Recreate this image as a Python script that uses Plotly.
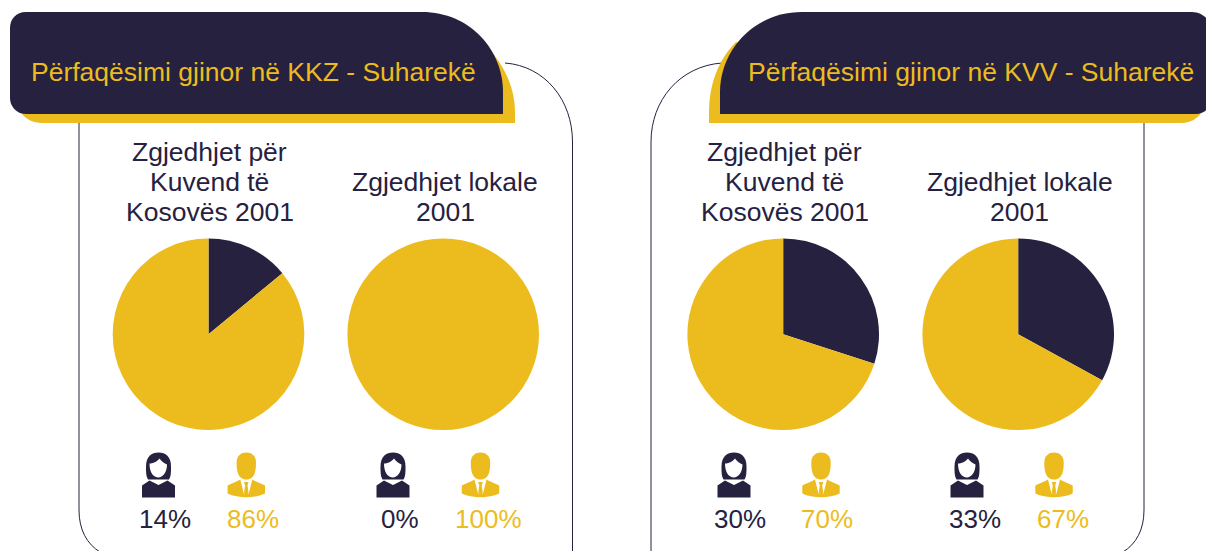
import plotly.graph_objects as go

W, H = 1206, 551
NAVY = "#26213F"
GOLD = "#ECBC1E"
FONT = "Liberation Sans"

pie_labels = ["Gra", "Burra"]
women = [14, 0, 30, 33]
men = [86, 100, 70, 67]
women_text = ["14%", "0%", "30%", "33%"]
men_text = ["86%", "100%", "70%", "67%"]
pie_titles = [
    ["Zgjedhjet për", "Kuvend të", "Kosovës 2001"],
    ["Zgjedhjet lokale", "2001"],
    ["Zgjedhjet për", "Kuvend të", "Kosovës 2001"],
    ["Zgjedhjet lokale", "2001"],
]
headers = ["Përfaqësimi gjinor në KKZ - Suharekë", "Përfaqësimi gjinor në KVV - Suharekë"]

pie_cx = [208.5, 443.2, 783.2, 1018.2]
pie_cy, pie_r = 334.2, 95.8
woman_cx = [158.5, 393, 734, 967]
man_cx = [246.3, 480.5, 821, 1054]
title_cx = [209.5, 445, 784.5, 1019.5]
pct_woman_cx = [165, 400, 739.5, 975]
pct_man_cx = [252.5, 488.5, 826.5, 1062.5]

fig = go.Figure()

for i in range(4):
    fig.add_trace(go.Pie(
        labels=pie_labels, values=[women[i], men[i]], sort=False, direction="clockwise",
        rotation=0, textinfo="none", hoverinfo="label+percent", showlegend=False,
        marker=dict(colors=[NAVY, GOLD], line=dict(width=0)),
        domain=dict(x=[(pie_cx[i] - pie_r) / W, (pie_cx[i] + pie_r) / W],
                    y=[1 - (pie_cy + pie_r) / H, 1 - (pie_cy - pie_r) / H]),
    ))

shapes = []


def add(path, fill=None, line=None, lw=1):
    shapes.append(dict(type="path", xref="x", yref="y", path=path,
                       fillcolor=fill if fill else "rgba(0,0,0,0)",
                       line=dict(color=line if line else "rgba(0,0,0,0)", width=lw if line else 0)))


# panel outlines
add("M 79 120 L 79 510 C 79 530 87 544 100 552", line=NAVY)
add("M 505 63 C 545 66 572.5 100 572.5 142 L 572.5 552", line=NAVY)
add("M 722 63 C 680 66 651 100 651 142 L 651 552", line=NAVY)
add("M 1144 120 L 1144 510 C 1144 530 1136 544 1123 552", line=NAVY)

# left header
add("M 22 114 L 480 40 C 502 60 515 85 515 112 L 515 123 L 42 123 C 33 123 26 119 22 114 Z", fill=GOLD)
add("M 26 12 L 422 12 C 470 12 503 50 503 92 L 503 114 L 26 114 C 16 114 10 106 10 98 L 10 28 C 10 19 16 12 26 12 Z", fill=NAVY)
# right header
add("M 736 42 C 718 60 709 85 709 112 L 709 123 L 1182 123 C 1190 123 1197 119 1202 112 Z", fill=GOLD)
add("M 802 12 L 1192 12 C 1200 12 1206 17 1208 20 L 1208 108 C 1206 111 1202 114 1196 114 L 720 114 L 720 92 C 720 50 754 12 802 12 Z", fill=NAVY)


def woman(c):
    y = 452.5
    add(f"M {c-12.5} {y+14} C {c-12.5} {y+4} {c-7} {y} {c} {y} C {c+7} {y} {c+12.5} {y+4} {c+12.5} {y+14} "
        f"C {c+12.5} {y+20} {c+12.5} {y+24} {c+10.5} {y+27} L {c-10.5} {y+27} C {c-12.5} {y+24} {c-12.5} {y+20} {c-12.5} {y+14} Z", fill=NAVY)
    add(f"M {c-9} {y+11} C {c-6} {y+11} {c-1} {y+9} {c+1} {y+6} C {c+3} {y+9} {c+6} {y+11} {c+8.5} {y+12} "
        f"C {c+8.5} {y+20} {c+4} {y+25} {c} {y+25} C {c-5} {y+25} {c-9} {y+20} {c-9} {y+11} Z", fill="white")
    add(f"M {c-16.5} {y+33} L {c-9} {y+28} L {c} {y+32.5} L {c+9} {y+28} L {c+16.5} {y+33} L {c+16.5} {y+45} L {c-16.5} {y+45} Z", fill=NAVY)


def man(c):
    y = 452.5
    add(f"M {c-9.7} {y+10} C {c-9.7} {y+3} {c-5} {y} {c} {y} C {c+5} {y} {c+9.7} {y+3} {c+9.7} {y+10} "
        f"C {c+9.7} {y+17} {c+9} {y+27} {c} {y+27} C {c-9} {y+27} {c-9.7} {y+17} {c-9.7} {y+10} Z", fill=GOLD)
    add(f"M {c-18.7} {y+33} C {c-15} {y+31} {c-9} {y+29} {c-6} {y+27} L {c-2.5} {y+41} L {c+2.5} {y+41} L {c+6} {y+27} "
        f"C {c+9} {y+29} {c+15} {y+31} {c+18.7} {y+33} L {c+18.7} {y+41} C {c+8} {y+46} {c-8} {y+46} {c-18.7} {y+41} Z", fill=GOLD)
    add(f"M {c-2.3} {y+29.5} L {c+2.3} {y+29.5} L {c+1.2} {y+33} L {c+2.3} {y+40} L {c} {y+43} L {c-2.3} {y+40} L {c-1.2} {y+33} Z", fill=GOLD)


for i in range(4):
    woman(woman_cx[i])
    man(man_cx[i])

ann = []


def text(x, y, s, size, color, anchor="center"):
    ann.append(dict(x=x, y=y, xref="x", yref="y", text=s, showarrow=False, xanchor=anchor, yanchor="middle",
                    font=dict(family=FONT, size=size, color=color)))


text(28.5, 72, headers[0], 26.5, GOLD, "left")
text(745.5, 72, headers[1], 26.5, GOLD, "left")

for i in range(4):
    lines = pie_titles[i]
    for j, line in enumerate(reversed(lines)):
        text(title_cx[i], 212 - 30 * j, line, 26.5, NAVY)
    text(pct_woman_cx[i], 519, women_text[i], 26, NAVY)
    text(pct_man_cx[i], 519, men_text[i], 26, GOLD)

fig.update_layout(
    width=W, height=H, margin=dict(l=0, r=0, t=0, b=0), autosize=False,
    paper_bgcolor="white", plot_bgcolor="rgba(0,0,0,0)", showlegend=False,
    xaxis=dict(range=[0, W], visible=False, fixedrange=True),
    yaxis=dict(range=[H, 0], visible=False, fixedrange=True),
    shapes=shapes, annotations=ann,
)
fig.write_html("out.html", post_script="document.body.style.margin='0';document.body.style.overflow='hidden';",
               config=dict(displayModeBar=False))
